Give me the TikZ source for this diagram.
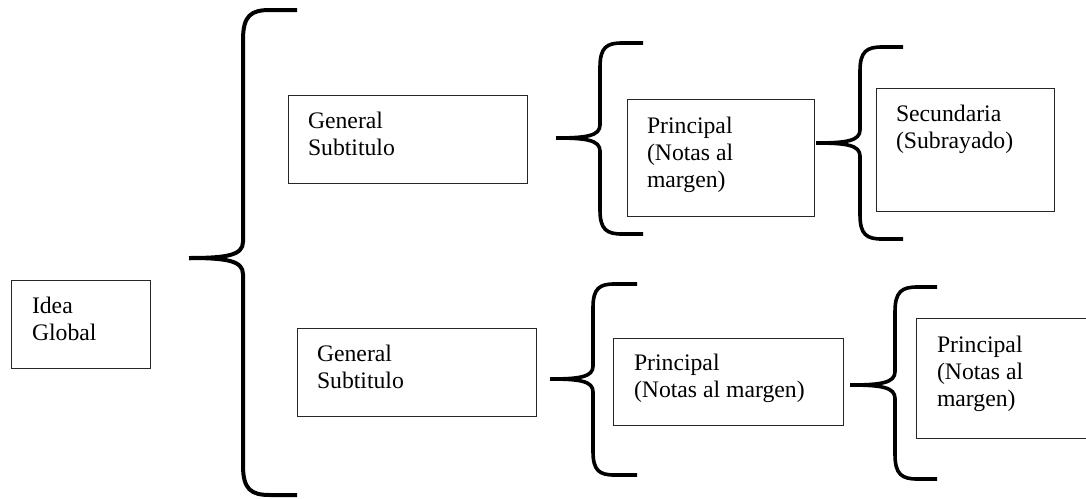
\documentclass[tikz,border=0pt]{standalone}
\usepackage{fontspec}
\setmainfont{Liberation Serif}
\newcommand\cbrace[7]{% name, tx, ty, vx, top, bottom, ex
  \coordinate (#1) at (#2,#3);
  \draw[bracel] (#1) .. controls ({#2+0.7*(#4-#2)},#3) and (#4,{#3-0.05*(#4-#2)}) .. (#4,{#3-0.3*(#4-#2)})
    -- (#4,{#5+0.55*(#4-#2)}) .. controls (#4,{#5+0.1*(#4-#2)}) and ({#4+0.15*(#4-#2)},#5) .. ({#4+0.5*(#4-#2)},#5) -- (#7,#5);
  \draw[bracel] (#1) .. controls ({#2+0.7*(#4-#2)},#3) and (#4,{#3+0.05*(#4-#2)}) .. (#4,{#3+0.3*(#4-#2)})
    -- (#4,{#6-0.55*(#4-#2)}) .. controls (#4,{#6-0.1*(#4-#2)}) and ({#4+0.15*(#4-#2)},#6) .. ({#4+0.5*(#4-#2)},#6) -- (#7,#6);
}
\begin{document}
\begin{tikzpicture}[x=1pt,y=-1pt,
  box/.style={draw=black!85, line width=1pt, inner sep=0pt, outer sep=0pt, anchor=north west},
  txt/.style={inner sep=0pt, outer sep=0pt, anchor=north west, align=left, font=\fontsize{23.7}{27}\selectfont},
  bracel/.style={line width=3.6pt, black}]
\useasboundingbox (0,0) rectangle (1086,498);
\clip (0,0) rectangle (1086,498);
\fill[white] (0,0) rectangle (1086,498);
% boxes
\node[box, minimum width=139pt, minimum height=88pt] (idea) at (11,280) {};
\node[box, minimum width=239pt, minimum height=88pt] (gen1) at (288,95) {};
\node[box, minimum width=239pt, minimum height=88pt] (gen2) at (297,328) {};
\node[box, minimum width=187pt, minimum height=117pt] (pr1) at (627,99) {};
\node[box, minimum width=178pt, minimum height=123pt] (sec) at (876,88) {};
\node[box, minimum width=230pt, minimum height=87pt] (pr2) at (613,338) {};
\node[box, minimum width=190pt, minimum height=120pt] (pr3) at (916,318) {};
% texts
\node[txt] (tidea) at (32,296.8) {Idea\\Global};
\node[txt] (tgen1) at (308,111.8) {General\\Subtitulo};
\node[txt] (tgen2) at (317,344.8) {General\\Subtitulo};
\node[txt] (tpr1) at (647,116.8) {Principal\\(Notas al\\margen)};
\node[txt] (tsec) at (896,104.8) {Secundaria\\(Subrayado)};
\node[txt] (tpr2) at (634,353.8) {Principal\\(Notas al margen)};
\node[txt] (tpr3) at (937,335.8) {Principal\\(Notas al\\margen)};
% braces
\begin{scope}[bracel/.append style={line width=4pt}]
\cbrace{brA}{189}{258}{243}{10}{495}{297}
\end{scope}
\cbrace{brB}{556}{138}{600}{43}{234}{643}
\cbrace{brC}{816}{143}{860}{47}{239}{903}
\cbrace{brD}{550}{379}{593}{284}{475}{637}
\cbrace{brE}{850}{385}{895}{287}{479}{937}
\end{tikzpicture}
\end{document}
